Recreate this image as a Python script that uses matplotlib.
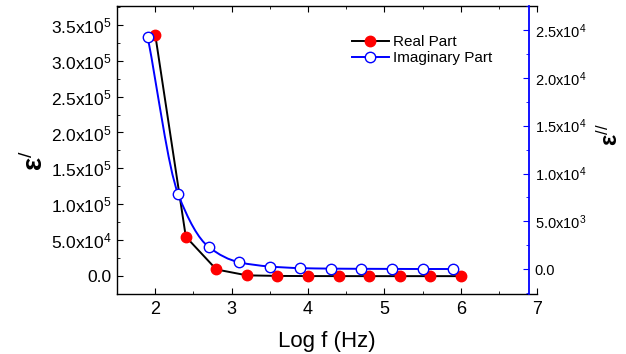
import numpy as np
import matplotlib
matplotlib.use('Agg')
from matplotlib import pyplot as plt
from matplotlib.path import Path
from matplotlib.patches import PathPatch
from matplotlib.ticker import MultipleLocator, FuncFormatter

plt.rcParams['font.family'] = ['Liberation Sans', 'DejaVu Sans']
plt.rcParams['mathtext.fontset'] = 'custom'
plt.rcParams['mathtext.rm'] = 'Liberation Sans'
plt.rcParams['mathtext.it'] = 'Liberation Sans:italic'
plt.rcParams['mathtext.bf'] = 'Liberation Sans:bold'

# data
logf_real = [2.0, 2.4, 2.8, 3.2, 3.6, 4.0, 4.4, 4.8, 5.2, 5.6, 6.0]
eps_real = [336000, 55000, 9400, 1200, 400, 200, 150, 100, 100, 100, 100]
logf_imag = [1.9, 2.3, 2.7, 3.1, 3.5, 3.9, 4.3, 4.7, 5.1, 5.5, 5.9]
eps_imag = [24300, 7850, 2330, 730, 290, 120, 70, 50, 40, 30, 30]


def sci(v, pos):
  if abs(v) < 1e-9:
    return '0.0'
  e = int(np.floor(np.log10(abs(v))))
  return '%.1fx10$^{%d}$' % (v / 10**e, e)


def pchip_path(x, y):
  # monotone cubic (Fritsch-Carlson) drawn as bezier segments
  x = np.asarray(x, float); y = np.asarray(y, float)
  h = np.diff(x); d = np.diff(y) / h
  m = np.zeros_like(x)
  for i in range(1, len(x) - 1):
    if d[i-1] * d[i] > 0:
      w1 = 2*h[i] + h[i-1]; w2 = h[i] + 2*h[i-1]
      m[i] = (w1 + w2) / (w1/d[i-1] + w2/d[i])
  m[0] = d[0]; m[-1] = d[-1]
  verts = [(x[0], y[0])]; codes = [Path.MOVETO]
  for i in range(len(h)):
    verts += [(x[i] + h[i]/3, y[i] + m[i]*h[i]/3),
              (x[i+1] - h[i]/3, y[i+1] - m[i+1]*h[i]/3),
              (x[i+1], y[i+1])]
    codes += [Path.CURVE4]*3
  return Path(verts, codes)


fig = plt.figure(figsize=(6.26, 3.54), dpi=100)
ax = fig.add_axes([0.187, 0.169, 0.671, 0.814])
ax2 = ax.twinx()

ax.plot(logf_real, eps_real, color='black', lw=1.4, marker='o', ms=7.5,
        mfc='red', mec='red', label='Real Part')
ax2.add_patch(PathPatch(pchip_path(logf_imag, eps_imag), fc='none', ec='blue', lw=1.4))
ax2.plot(logf_imag, eps_imag, ls='none', marker='o', ms=7.5, mfc='white', mec='blue')
ax.plot([], [], color='blue', lw=1.4, marker='o', ms=7.5,
        mfc='white', mec='blue', label='Imaginary Part')

ax.set_xlim(1.5, 7.0)
ax.set_ylim(-25000, 376000)
ax2.set_ylim(-2600, 27500)

ax.xaxis.set_major_locator(MultipleLocator(1))
ax.xaxis.set_minor_locator(MultipleLocator(0.5))
ax.yaxis.set_major_locator(MultipleLocator(50000))
ax.yaxis.set_minor_locator(MultipleLocator(25000))
ax2.yaxis.set_major_locator(MultipleLocator(5000))
ax2.yaxis.set_minor_locator(MultipleLocator(2500))
ax.yaxis.set_major_formatter(FuncFormatter(sci))
ax2.yaxis.set_major_formatter(FuncFormatter(sci))

ax.tick_params(axis='both', which='both', direction='in')
ax.tick_params(axis='x', which='both', top=True, labelsize=13, pad=5)
ax.tick_params(axis='y', which='both', right=False, labelsize=12.5, pad=4)
ax.tick_params(which='major', length=4)
ax.tick_params(which='minor', length=2.5)
ax2.tick_params(axis='y', which='both', direction='in', colors='blue',
                labelcolor='black', labelsize=10.5, pad=4)
ax2.tick_params(which='major', length=4)
ax2.tick_params(which='minor', length=2.5)

ax.spines['right'].set_visible(False)
for s in ['top', 'bottom', 'left']:
  ax2.spines[s].set_visible(False)
ax2.spines['right'].set_position(('data', 6.895))
ax2.spines['right'].set_color('blue')
ax2.spines['right'].set_linewidth(1.3)
for s in ['top', 'bottom', 'left']:
  ax.spines[s].set_linewidth(1.0)

ax.set_xlabel('Log f (Hz)', fontsize=16, labelpad=9)
fig.text(0.055, 0.545, r'$\mathbf{\varepsilon}^{/}$', rotation=90, fontsize=20,
         ha='center', va='center')
fig.text(0.975, 0.62, r'$\mathbf{\varepsilon}^{//}$', rotation=90, fontsize=17,
         ha='center', va='center')

ax.legend(loc='upper left', bbox_to_anchor=(0.545, 0.92), frameon=False,
          fontsize=11, handlelength=2.4, handletextpad=0.3, borderaxespad=0,
          labelspacing=0.15)

fig.savefig('out.png', dpi=100)
